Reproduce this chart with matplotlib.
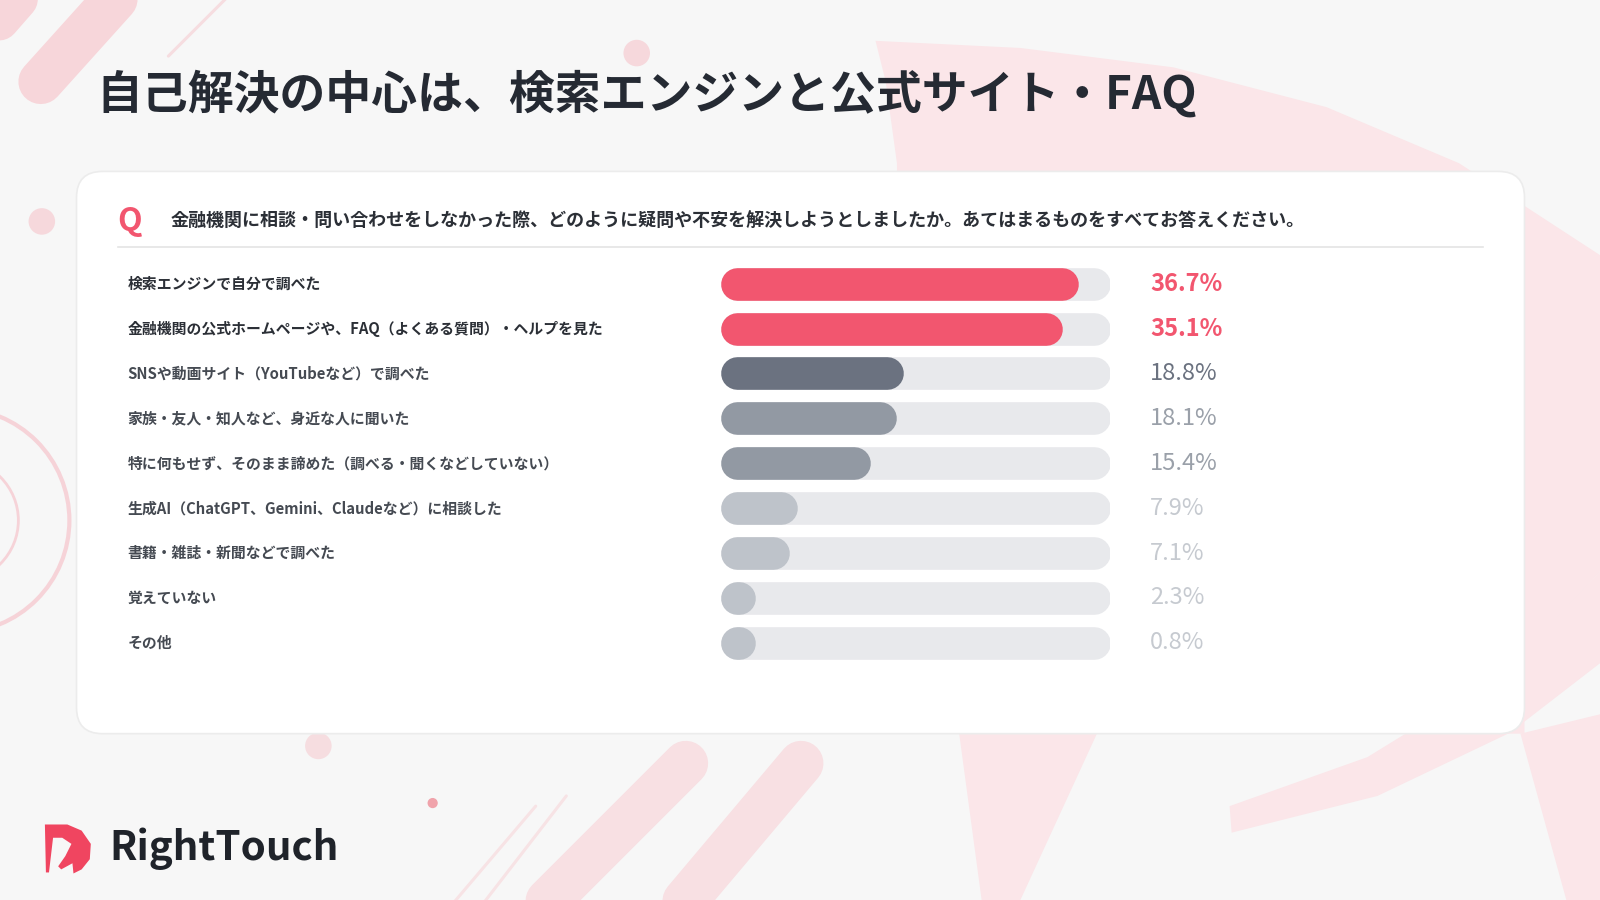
import matplotlib
matplotlib.use("Agg")
import matplotlib.pyplot as plt
import matplotlib.transforms as mtransforms
from matplotlib.patches import FancyBboxPatch, Polygon, Circle, Arc

plt.rcParams['font.family'] = ['Noto Sans CJK JP', 'DejaVu Sans']

# --- data ---
title = "自己解決の中心は、検索エンジンと公式サイト・FAQ"
question = "金融機関に相談・問い合わせをしなかった際、どのように疑問や不安を解決しようとしましたか。あてはまるものをすべてお答えください。"
labels = [
    "検索エンジンで自分で調べた",
    "金融機関の公式ホームページや、FAQ（よくある質問）・ヘルプを見た",
    "SNSや動画サイト（YouTubeなど）で調べた",
    "家族・友人・知人など、身近な人に聞いた",
    "特に何もせず、そのまま諦めた（調べる・聞くなどしていない）",
    "生成AI（ChatGPT、Gemini、Claudeなど）に相談した",
    "書籍・雑誌・新聞などで調べた",
    "覚えていない",
    "その他",
]
values = [36.7, 35.1, 18.8, 18.1, 15.4, 7.9, 7.1, 2.3, 0.8]
x_max = 40

# --- styles ---
PINK = "#f2566f"
bar_colors = [PINK, PINK, "#6b7280", "#9299a3", "#9299a3",
              "#bec3ca", "#bec3ca", "#bec3ca", "#bec3ca"]
value_colors = [PINK, PINK, "#6b7280", "#9aa0a9", "#9aa0a9",
                "#c6cad0", "#c6cad0", "#c6cad0", "#c6cad0"]
value_weights = ["bold", "bold"] + ["normal"] * 7
label_colors = ["#2b2f36", "#2b2f36"] + ["#454a52"] * 7
TRACK = "#e8e9ec"
BG = "#f7f7f7"
DECO = "#fbe6e9"

S = 1600 / 1568  # reference measured at 1568 wide


def p(x, y):
    return (x * S, y * S)


fig = plt.figure(figsize=(16, 9), dpi=100)
fig.patch.set_facecolor(BG)

# background layer in pixel coordinates
bg = fig.add_axes([0, 0, 1, 1])
bg.set_xlim(0, 1600)
bg.set_ylim(900, 0)
bg.axis("off")

# decorative shapes
big_top = [(858, 40), (1000, 47), (1150, 66), (1300, 105), (1430, 160), (1568, 250),
           (1568, 560), (1494, 640), (1494, 719), (880, 719), (879, 160), (868, 80)]
swoosh = [(1205, 790), (1207, 816), (1350, 780), (1480, 718), (1568, 650),
          (1568, 560), (1470, 662), (1340, 742)]
wedge = [(940, 719), (1075, 719), (1000, 882), (962, 882)]
corner = [(1490, 719), (1568, 700), (1568, 882), (1535, 882)]
for poly in (big_top, swoosh, wedge, corner):
    bg.add_patch(Polygon([p(*q) for q in poly], closed=True, facecolor=DECO,
                         edgecolor="none", zorder=1))

def stripe(x0, y0, x1, y1, w, color="#f7d9dd", alpha=1.0):
    a, b = p(x0, y0), p(x1, y1)
    bg.plot([a[0], b[0]], [a[1], b[1]], color=color, lw=w * S / 1.389,
            solid_capstyle="round", alpha=alpha, zorder=1)

stripe(40, 80, 130, -20, 44, "#f7d6da")
stripe(-10, 30, 25, -10, 40, "#f7d6da")
stripe(165, 55, 225, -5, 3, "#f6dde0")
stripe(500, 920, 672, 748, 44, "#f8e0e3")
stripe(640, 920, 785, 748, 44, "#f8e0e3")
stripe(440, 890, 525, 790, 3, "#f7e3e5")
stripe(470, 890, 555, 780, 3, "#f7e3e5")

for (cx, cy, r, c) in [(624, 52, 13, "#f6d8dc"), (41, 217, 13, "#f6d8dc"),
                       (312, 731, 13, "#f6dde0"), (424, 787, 5, "#f0a3ab")]:
    bg.add_patch(Circle(p(cx, cy), r * S, facecolor=c, edgecolor="none", zorder=1))

for rad, lw in [(110, 3), (60, 2)]:
    cx, cy = p(-42, 510)
    bg.add_patch(Arc((cx, cy), 2 * rad * S, 2 * rad * S, theta1=-90, theta2=90,
                     color="#f6d3d8", lw=lw, zorder=1))

# card
cx0, cy0 = p(75, 168)
cx1, cy1 = p(1494, 719)
card = FancyBboxPatch((cx0, cy0), cx1 - cx0, cy1 - cy0,
                      boxstyle="round,pad=0,rounding_size=26",
                      facecolor="white", edgecolor="#ececec", lw=1.2, zorder=3)
bg.add_patch(card)

# title
bg.text(*p(94, 93), title, fontsize=33, fontweight="bold", color="#252a33",
        va="center", ha="left", zorder=5)

# question
bg.text(*p(115, 217), "Q", fontsize=23, fontweight="bold", color=PINK,
        va="center", ha="left", zorder=5)
bg.text(*p(167, 217), question, fontsize=13, fontweight="bold", color="#2b2f36",
        va="center", ha="left", zorder=5)
l0, l1 = p(116, 242), p(1453, 242)
bg.plot([l0[0], l1[0]], [l0[1], l1[1]], color="#e4e4e4", lw=1.2, zorder=4)

# logo
logo = [(44, 808), (66, 808), (80, 814), (89, 827), (88, 842), (80, 852), (72, 856),
        (71, 846), (60, 852), (57, 849), (64, 839), (70, 827), (61, 821), (52, 821),
        (48, 855), (45, 855)]
bg.add_patch(Polygon([p(*q) for q in logo], closed=True, facecolor="#f04560",
                     edgecolor="none", zorder=5))
bg.text(*p(107, 832), "RightTouch", fontsize=29, fontweight="bold", color="#1f232a",
        va="center", ha="left", zorder=5)

# --- bar chart axes ---
row0 = 278 * S
step = 44 * S
left_px, right_px = 706 * S, 1088 * S
top_px = row0 - step / 2
bot_px = row0 + step * (len(values) - 0.5)
ax = fig.add_axes([left_px / 1600, 1 - bot_px / 900,
                   (right_px - left_px) / 1600, (bot_px - top_px) / 900])
ax.set_xlim(0, x_max)
ax.set_ylim(len(values) - 0.5, -0.5)
ax.axis("off")
ax.patch.set_alpha(0)

bar_h_px = 32 * S
lw_pt = bar_h_px / 1.389
r = (bar_h_px / 2) / ((right_px - left_px) / x_max)

for i, v in enumerate(values):
    ax.plot([r, x_max - r], [i, i], color=TRACK, lw=lw_pt, solid_capstyle="round", zorder=2)
    end = max(v - r, r + 0.25)
    ax.plot([r, end], [i, i], color=bar_colors[i], lw=lw_pt, solid_capstyle="round", zorder=3)

lab_tr = mtransforms.blended_transform_factory(fig.transFigure, ax.transData)
for i, (lab, v) in enumerate(zip(labels, values)):
    ax.text(125 * S / 1600, i, lab, transform=lab_tr, fontsize=10.7, fontweight="bold",
            color=label_colors[i], va="center", ha="left")
    ax.text(1127 * S / 1600, i, f"{v:.1f}%", transform=lab_tr, fontsize=17,
            fontweight=value_weights[i], color=value_colors[i], va="center", ha="left")

fig.savefig("out.png", dpi=100, facecolor=fig.get_facecolor())
